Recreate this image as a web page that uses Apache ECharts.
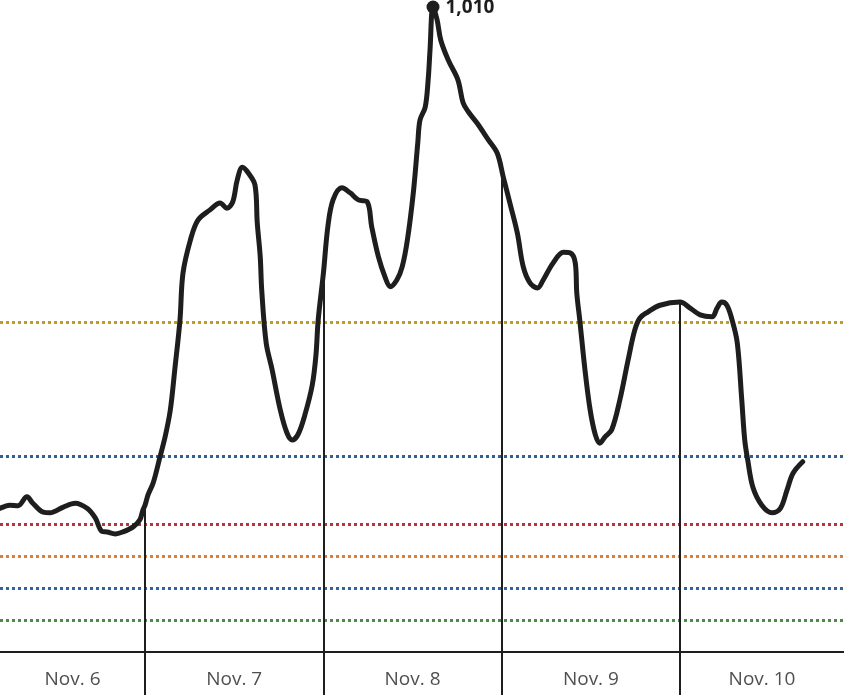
<!DOCTYPE html>
<html>
<head>
<meta charset="utf-8">
<script src="https://cdn.jsdelivr.net/npm/echarts@6/dist/echarts.min.js"></script>
<style>
html,body{margin:0;padding:0;background:#fff;}
#chart{width:844px;height:695px;}
</style>
</head>
<body>
<div id="chart"></div>
<script>
// Hours since Nov. 6 00:00
var hours = [4.5,5.8,6.9,8.1,8.9,10.3,11.2,13.0,14.6,16.2,17.3,18.2,18.9,20.0,21.0,22.4,23.3,23.7,24.0,24.4,25.1,26.0,26.7,27.4,28.0,28.7,29.1,30.1,31.1,32.7,34.1,35.0,35.8,36.4,37.1,37.9,38.8,39.1,39.5,39.7,40.3,41.1,42.2,43.1,43.8,44.6,45.5,46.5,47.0,47.3,48.0,48.6,49.3,50.5,51.6,52.7,53.9,54.5,55.4,56.3,57.0,57.9,58.6,59.3,60.1,60.7,61.0,61.7,62.1,62.35,62.75,63.3,63.8,64.8,66.1,66.8,67.5,68.7,70.2,71.4,72.2,73.1,74.1,74.9,75.8,76.8,77.6,78.9,80.3,81.2,81.9,82.1,82.5,83.2,83.9,84.6,85.2,85.9,86.8,87.9,89.0,89.9,90.6,91.6,93.3,96.0,97.3,98.7,100.3,101.0,101.6,102.3,103.0,103.7,104.3,104.7,105.1,105.8,107.0,108.4,109.5,110.4,111.2,112.5];
var values = [225,230,229,243,233,219,218,227,233,225,210,189,188,185,188,196,207,222,230,246,265,305,337,379,442,520,593,645,676,692,703,695,705,739,759,750,731,672,619,567,484,442,379,343,332,341,371,418,465,520,593,666,708,727,719,708,705,666,619,587,572,583,603,645,719,797,833,853,896,943,1010,990,958,927,896,860,846,828,802,781,744,703,656,603,578,570,583,609,626,625,609,562,520,442,379,340,327,337,348,395,457,504,523,532,543,548,539,528,525,539,548,543,520,484,395,332,301,258,230,218,225,254,280,298];
var dayLabels = ['Nov. 6','Nov. 7','Nov. 8','Nov. 9','Nov. 10'];
var dayBoundaries = [24,48,72,96];
var thresholds = [50,100,150,200,307,517];
var thresholdColors = ['#4f8a4b','#3463a5','#d9803f','#b5373c','#335f95','#c09a2a'];
var peakLabel = '1,010';

var X_MIN = 4.48, X_MAX = 118.06;
var Y_MIN = -67.3, Y_MAX = 1021;
var LABEL_Y = -43;

function interp(h){
  for (var i=0;i<hours.length-1;i++){
    if (h>=hours[i] && h<=hours[i+1]){
      var t=(h-hours[i])/(hours[i+1]-hours[i]);
      return values[i]+t*(values[i+1]-values[i]);
    }
  }
  return values[values.length-1];
}

var lineData = hours.map(function(h,i){return [h,values[i]];});
var peakIdx = values.indexOf(Math.max.apply(null, values));

var edges = [X_MIN].concat(dayBoundaries).concat([X_MAX]);
var labelData = dayLabels.map(function(l,i){return {value:[(edges[i]+edges[i+1])/2, LABEL_Y], name:l};});

var markLines = [];
thresholds.forEach(function(t,i){
  markLines.push([{coord:[X_MIN,t], lineStyle:{color:thresholdColors[i], width:3, type:[3,3]}},{coord:[X_MAX,t]}]);
});
dayBoundaries.forEach(function(b){
  markLines.push([{coord:[b,interp(b)], lineStyle:{color:'#1e1e1e', width:2, type:'solid'}},{coord:[b,Y_MIN]}]);
});

var chart = echarts.init(document.getElementById('chart'));
chart.setOption({
  animation:false,
  backgroundColor:'#fff',
  grid:{left:0,right:0,top:0,bottom:0},
  xAxis:{type:'value',min:X_MIN,max:X_MAX,
    axisLine:{show:true,onZero:true,lineStyle:{color:'#1e1e1e',width:2}},
    axisTick:{show:false},axisLabel:{show:false},splitLine:{show:false}},
  yAxis:{type:'value',min:Y_MIN,max:Y_MAX,show:false,splitLine:{show:false}},
  series:[
    {type:'line',data:lineData,smooth:0.35,symbol:'none',z:5,
      lineStyle:{color:'#1e1e1e',width:5,cap:'round',join:'round'},
      markLine:{silent:true,symbol:['none','none'],label:{show:false},data:markLines,z:2},
      markPoint:{silent:true,data:[{coord:[hours[peakIdx],values[peakIdx]],symbol:'circle',symbolSize:13,
        itemStyle:{color:'#1e1e1e'},
        label:{show:true,position:'right',distance:6,offset:[0,1],formatter:peakLabel,color:'#1e1e1e',fontFamily:'Open Sans',fontWeight:'bold',fontSize:19}}]}
    },
    {type:'scatter',data:labelData,symbolSize:0,silent:true,
      label:{show:true,position:'inside',formatter:function(p){return p.name;},color:'#222',fontFamily:'Open Sans',fontSize:19}}
  ]
});
</script>
</body>
</html>
